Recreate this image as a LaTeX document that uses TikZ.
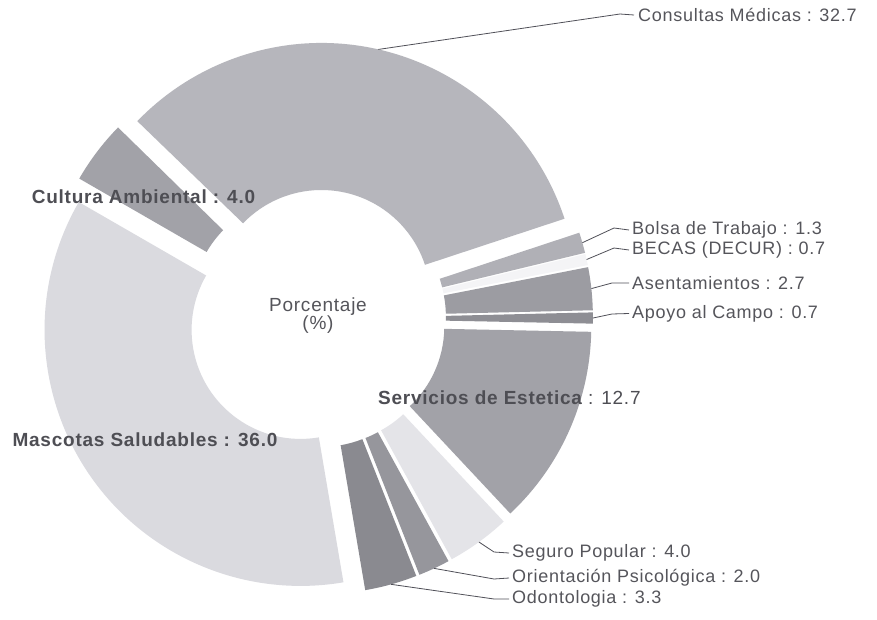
\documentclass[tikz,border=0pt]{standalone}
\usepackage{fontspec}
\setmainfont{Liberation Sans}[LetterSpace=4]
\usetikzlibrary{calc}
\definecolor{cCons}{HTML}{B6B6BC}
\definecolor{cBolsa}{HTML}{B0B0B6}
\definecolor{cBecas}{HTML}{F4F4F6}
\definecolor{cAsen}{HTML}{9C9CA2}
\definecolor{cApoyo}{HTML}{8E8E94}
\definecolor{cServ}{HTML}{A2A2A8}
\definecolor{cSeg}{HTML}{E4E4E8}
\definecolor{cOrien}{HTML}{96969C}
\definecolor{cOdon}{HTML}{8A8A90}
\definecolor{cMasc}{HTML}{DADADF}
\definecolor{cCult}{HTML}{A2A2A8}
\definecolor{txt}{HTML}{55555B}
\definecolor{txtb}{HTML}{4E4E54}
\definecolor{lead}{HTML}{505058}
\begin{document}
\begin{tikzpicture}[x=1pt,y=1pt,
  lbl/.style={font=\fontsize{18}{20}\selectfont, text=txt, inner sep=0pt},
  blbl/.style={font=\fontsize{19}{21}\selectfont\bfseries, text=txtb, inner sep=0pt},
  leader/.style={draw=lead, line width=0.8pt}]
\fill[white] (0,0) rectangle (877,619);
\useasboundingbox (0,0) rectangle (877,619);
\coordinate (C) at (317,300.5);
\foreach \n/\s/\t/\c in {cons/136/18.28/cCons, bolsa/18.28/13.6/cBolsa, becas/13.6/11.08/cBecas,
  asen/11.08/1.36/cAsen, apoyo/1.36/-1.16/cApoyo, serv/-1.16/-46.88/cServ,
  seg/-46.88/-61.28/cSeg, orien/-61.28/-68.48/cOrien, odon/-68.48/-80.36/cOdon,
  masc/-80.36/-209.96/cMasc, cult/-209.96/-224.36/cCult}{
  \pgfmathsetmacro\m{(\s+\t)/2}
  \begin{scope}[shift={(C)}, shift={(\m:20pt)}]
    \fill[\c] (\s:109pt) arc[start angle=\s, end angle=\t, radius=109pt]
      -- (\t:256pt) arc[start angle=\t, end angle=\s, radius=256pt] -- cycle;
  \end{scope}
  \coordinate (p\n) at ($(C)+(\m:276pt)$);
}
% center text
\node[lbl, align=center, font=\fontsize{19}{18}\selectfont] (center) at (318,303) {Porcentaje\\(\%)};
% inside labels
\node[blbl] (lcult) at (143.5,422) {Cultura Ambiental : 4.0};
\node[blbl] (lmasc) at (145,179) {Mascotas Saludables : 36.0};
\node[blbl, anchor=west] (lserv) at (378,221) {Servicios de Estetica\mdseries{} : 12.7};
% outside labels
\node[lbl, anchor=west] (lcons) at (638,604) {Consultas Médicas : 32.7};
\node[lbl, anchor=west] (lbolsa) at (632,389) {Bolsa de Trabajo : 1.3};
\node[lbl, anchor=west] (lbecas) at (632,369) {BECAS (DECUR) : 0.7};
\node[lbl, anchor=west] (lasen) at (632,336) {Asentamientos : 2.7};
\node[lbl, anchor=west] (lapoyo) at (632,305.5) {Apoyo al Campo : 0.7};
\node[lbl, anchor=west] (lseg) at (512,66) {Seguro Popular : 4.0};
\node[lbl, anchor=west] (lorien) at (512,41) {Orientación Psicológica : 2.0};
\node[lbl, anchor=west] (lodon) at (512,20) {Odontologia : 3.3};
% leaders
\draw[leader] (pcons) -- (620,605) -- ([xshift=-4pt]lcons.west);
\draw[leader] (pbolsa) -- (614,391) -- ([xshift=-3pt]lbolsa.west);
\draw[leader] (pbecas) -- (614,371) -- ([xshift=-3pt]lbecas.west);
\draw[leader] (pasen) -- (612,336) -- ([xshift=-3pt]lasen.west);
\draw[leader] (papoyo) -- (612,305) -- ([xshift=-3pt]lapoyo.west);
\draw[leader] (pseg) -- (494,67) -- ([xshift=-3pt]lseg.west);
\draw[leader] (porien) -- (494,40) -- ([xshift=-3pt]lorien.west);
\draw[leader] (podon) -- (494,20) -- ([xshift=-3pt]lodon.west);
\end{tikzpicture}
\end{document}
